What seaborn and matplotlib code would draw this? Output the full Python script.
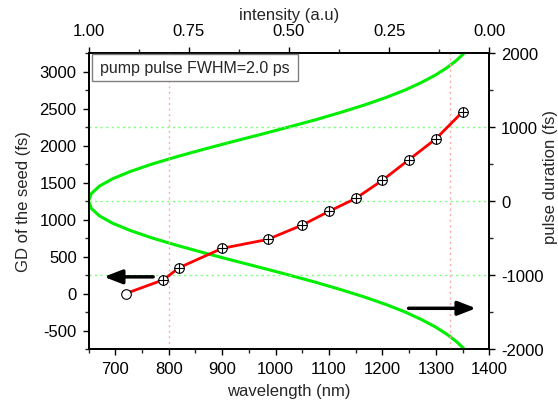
import matplotlib
matplotlib.use('Agg')
import matplotlib.pyplot as plt
from matplotlib.patches import Rectangle
from matplotlib.ticker import MultipleLocator, FormatStrFormatter
import seaborn as sns

sns.set_theme(style='ticks')
plt.rcParams['font.family'] = ['Liberation Sans', 'DejaVu Sans']
plt.rcParams['axes.unicode_minus'] = False

# group delay of the seed vs wavelength
wavelength = [720, 790, 820, 900, 985, 1050, 1100, 1150, 1200, 1250, 1300, 1350]
gd_seed = [0, 185, 350, 610, 730, 925, 1110, 1285, 1530, 1810, 2090, 2455]

# pump pulse profile: time (fs) vs intensity (a.u)
pulse_time = [-2000, -1900, -1800, -1700, -1600, -1500, -1400, -1300, -1200, -1100,
              -1000, -900, -800, -700, -600, -500, -400, -300, -200, -100,
              0, 100, 200, 300, 400, 500, 600, 700, 800, 900,
              1000, 1100, 1200, 1300, 1400, 1500, 1600, 1700, 1800, 1900, 2000]
intensity = [0.0625, 0.082, 0.106, 0.135, 0.170, 0.210, 0.257, 0.310, 0.369, 0.432,
             0.500, 0.570, 0.642, 0.712, 0.779, 0.841, 0.895, 0.940, 0.973, 0.993,
             1.000, 0.993, 0.973, 0.940, 0.895, 0.841, 0.779, 0.712, 0.642, 0.570,
             0.500, 0.432, 0.369, 0.310, 0.257, 0.210, 0.170, 0.135, 0.106, 0.082, 0.0625]

marker_lines = [801, 1326]   # wavelength (nm)
level_lines = [-1000, 0, 1000]  # pulse duration (fs)

W, H = 558, 406
fig = plt.figure(figsize=(W / 100, H / 100), dpi=100)
x0, x1, y0, y1 = 88.5, 489.3, 54, 350
ax = fig.add_axes([x0 / W, 1 - y1 / H, (x1 - x0) / W, (y1 - y0) / H])
ax_r = ax.twinx()
ax_t = ax_r.twiny()

# pulse profile on top/right axes
sns.lineplot(x=intensity, y=pulse_time, ax=ax_t, color='#00ee00', lw=2.2,
             sort=False, estimator=None)
for v in level_lines:
    ax_t.axhline(v, color='#77ff77', lw=1, ls=(0, (1.5, 2.5)))

# GD curve on bottom/left axes
for v in marker_lines:
    ax.axvline(v, color='#ffaaaa', lw=1, ls=(0, (1.5, 2.5)))
sns.lineplot(x=wavelength, y=gd_seed, ax=ax, color='red', lw=2, estimator=None)
ax.scatter(wavelength, gd_seed, s=48, marker='o', facecolor='white',
           edgecolor='black', lw=0.8, zorder=4)
ax.scatter(wavelength[1:], gd_seed[1:], s=48, marker='+', color='black',
           lw=0.8, zorder=5)

ax.annotate('', xy=(679, 225), xytext=(771, 225),
            arrowprops=dict(arrowstyle='-|>,head_length=0.9,head_width=0.35',
                            lw=2.5, color='black', shrinkA=0, shrinkB=0))
ax.annotate('', xy=(1375, -200), xytext=(1249, -200),
            arrowprops=dict(arrowstyle='-|>,head_length=0.9,head_width=0.35',
                            lw=2.5, color='black', shrinkA=0, shrinkB=0))

ax.set_xlim(650, 1400)
ax.set_ylim(-750, 3250)
ax_r.set_ylim(-2000, 2000)
ax_t.set_xlim(1, 0)

ax.xaxis.set_major_locator(MultipleLocator(100))
ax.xaxis.set_minor_locator(MultipleLocator(50))
ax.yaxis.set_major_locator(MultipleLocator(500))
ax.yaxis.set_minor_locator(MultipleLocator(250))
ax_r.yaxis.set_major_locator(MultipleLocator(1000))
ax_r.yaxis.set_minor_locator(MultipleLocator(500))
ax_t.xaxis.set_major_locator(MultipleLocator(0.25))
ax_t.xaxis.set_minor_locator(MultipleLocator(0.125))
ax_t.xaxis.set_major_formatter(FormatStrFormatter('%.2f'))

for a in (ax, ax_r, ax_t):
    a.tick_params(which='major', direction='out', length=4.5, width=1,
                  labelsize=12, pad=4, colors='black')
    a.tick_params(which='minor', direction='out', length=3, width=1)
    for s in a.spines.values():
        s.set_linewidth(1.1)
        s.set_color('black')
ax_t.tick_params(axis='x', which='major', pad=6.5)

ax.set_xlabel('wavelength (nm)', fontsize=12, labelpad=5)
ax.set_ylabel('GD of the seed (fs)', fontsize=12, labelpad=6)
ax_t.set_xlabel('intensity (a.u)', fontsize=12, labelpad=3)
ax_r.set_ylabel('')
fig.text(551 / W, 1 - 177 / H, 'pulse duration (fs)', rotation=90,
         ha='center', va='center', fontsize=12)

# red curve above green curve
ax_r.set_zorder(1)
ax_t.set_zorder(2)
ax.set_zorder(3)
ax.patch.set_visible(False)

# label box
bx0, bx1, by0, by1 = 92, 298, 55, 82
ax.add_patch(Rectangle(((bx0 - x0) / (x1 - x0), (y1 - by1) / (y1 - y0)),
                       (bx1 - bx0) / (x1 - x0), (by1 - by0) / (y1 - y0),
                       transform=ax.transAxes, facecolor='white',
                       edgecolor='#808080', lw=1, zorder=6))
ax.text(((bx0 + bx1) / 2 - x0) / (x1 - x0), (y1 - (by0 + by1) / 2) / (y1 - y0),
        'pump pulse FWHM=2.0 ps', transform=ax.transAxes, ha='center',
        va='center', fontsize=11.5, zorder=7)

fig.savefig('out.png', dpi=100, facecolor='white')
